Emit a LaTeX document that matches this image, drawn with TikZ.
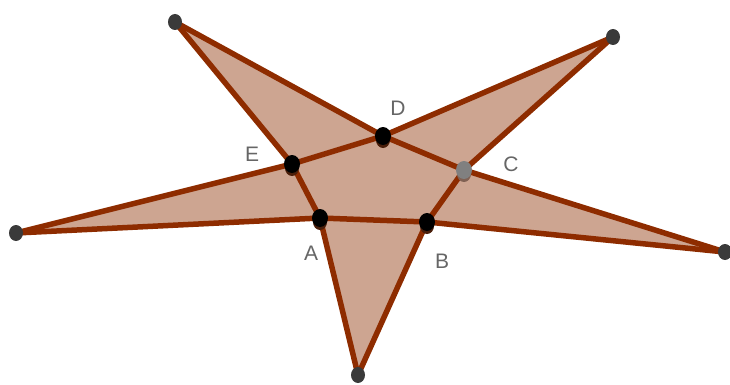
\documentclass[tikz,border=0pt]{standalone}
\usepackage{fontspec}
\setmainfont{Liberation Sans}
\usetikzlibrary{calc}
\definecolor{etbrun}{HTML}{8E2C00}
\definecolor{etfond}{HTML}{CDA591}
\definecolor{etgris}{HTML}{666666}
\definecolor{etsommet}{HTML}{3A3A3A}
\definecolor{etombre}{HTML}{4A1E0A}

\begin{document}
\begin{tikzpicture}[x=1pt,y=-1pt,font=\fontsize{21}{25}\selectfont]
  \useasboundingbox (0,0) rectangle (730,385);
  % sommets : nom / x / y
  \foreach \n/\x/\y in {P/175/22,Q/613/37,R/16/233,S/725/252,T/358/375,
    D/383/136,E/292/164,C/464/170,A/320/218,B/427/222}
    \coordinate (\n) at (\x,\y);
  % etoile
  \fill[etfond] (P) -- (D) -- (Q) -- (C) -- (S) -- (B) -- (T) -- (A)
    -- (R) -- (E) -- cycle;
  \foreach \a/\b in {R/E,E/D,D/Q,P/D,D/C,C/S,Q/C,C/B,B/T,S/B,B/A,A/R,T/A,A/E,E/P}
    \draw[etbrun,line width=5.5pt] (\a) -- (\b);
  % points
  \foreach \n in {P,Q,R,S,T}
    \fill[etsommet] (\n) ellipse (7 and 8);
  \foreach \n in {D,E,A,B} {
    \fill[etombre] ($(\n)+(0,4)$) ellipse (7 and 8);
    \fill[black] (\n) ellipse (8 and 9);
  }
  \fill[etombre!70] ($(C)+(0,4)$) ellipse (7 and 8);
  \fill[gray] (C) ellipse (8 and 9);
  % etiquettes
  \foreach \n/\x/\y in {D/398/108,E/252/154,C/511/164,A/311/253,B/442/261}
    \node[etgris] (l\n) at (\x,\y) {\n};
\end{tikzpicture}
\end{document}
